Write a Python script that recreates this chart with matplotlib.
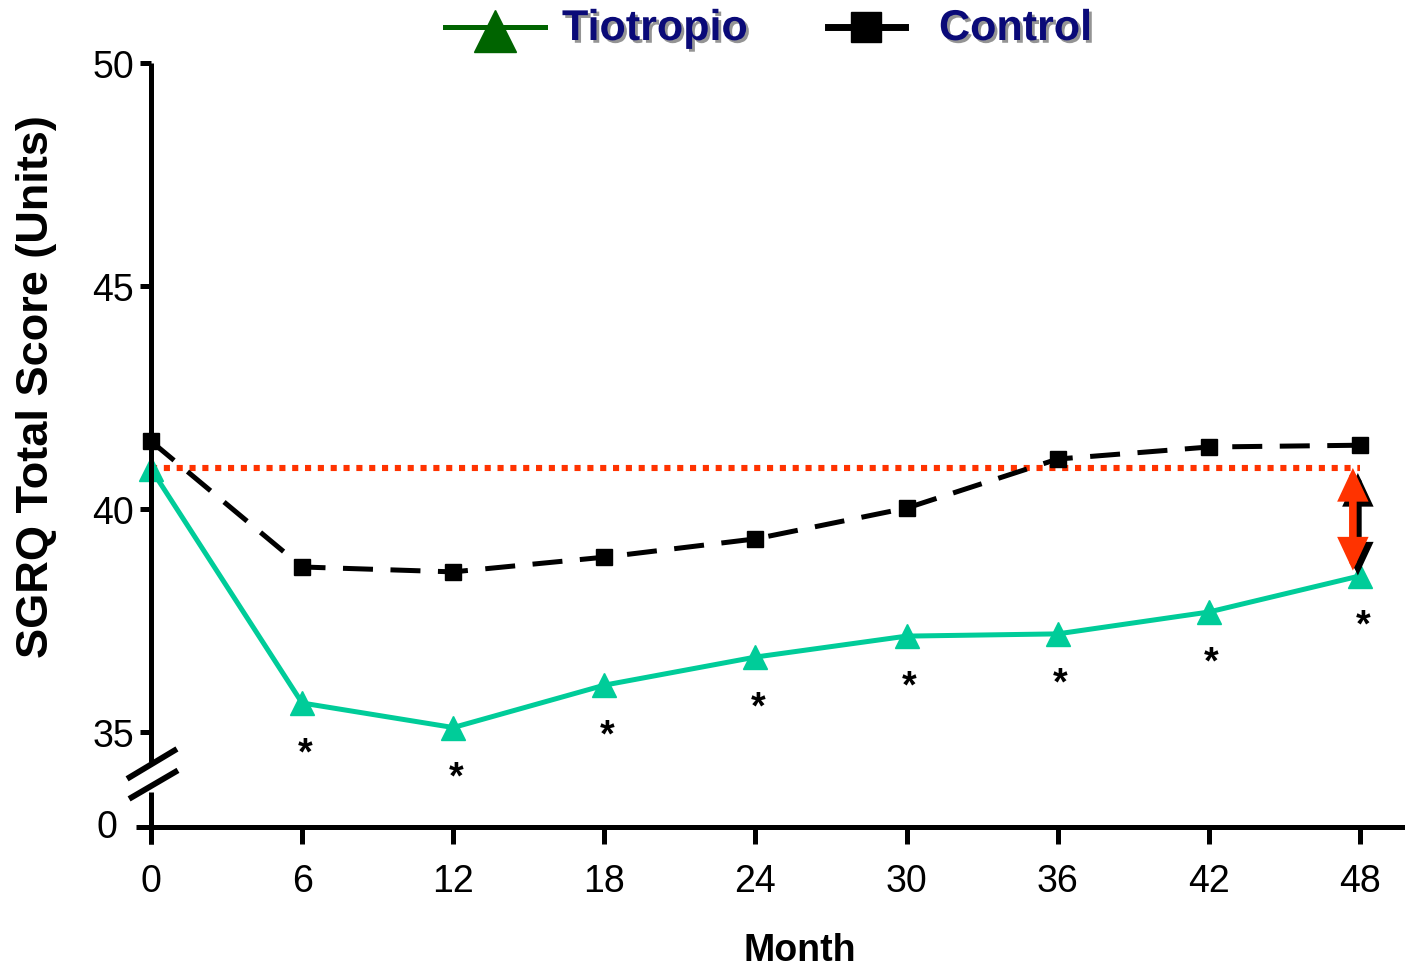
import matplotlib
matplotlib.use("Agg")
import matplotlib.pyplot as plt
import matplotlib.patheffects as pe
import matplotlib.transforms as mtransforms
from matplotlib.lines import Line2D
from matplotlib.patches import FancyArrowPatch

plt.rcParams['font.family'] = ['Liberation Sans', 'DejaVu Sans']

months = [0, 6, 12, 18, 24, 30, 36, 42, 48]
tiotropio = [40.9, 35.65, 35.1, 36.05, 36.68, 37.15, 37.2, 37.69, 38.5]
control = [41.52, 38.7, 38.59, 38.92, 39.33, 40.02, 41.12, 41.39, 41.43]
significant = [False, True, True, True, True, True, True, True, True]
baseline = 40.92
yticks = [35, 40, 45, 50]
xticks = months

TEAL = '#00CC99'
RED = '#FF3300'
NAVY = '#0A0A78'

fig = plt.figure(figsize=(14.05, 9.7), dpi=100)
ax = fig.add_axes([151 / 1405, 142 / 970, 1 - 151 / 1405, (906 - 142) / 970])

ymin = 32.87
ax.set_xlim(0, 49.79)
ax.set_ylim(ymin, 50)

# control arm
ax.plot(months, control, color='black', lw=3.6, ls=(0, (6, 3.5)),
        marker='s', ms=11, mfc='black', mec='black', clip_on=False, zorder=4)
# tiotropium arm
ax.plot(months, tiotropio, color=TEAL, lw=3.6, marker='^', ms=17,
        mfc=TEAL, mec=TEAL, clip_on=False, zorder=5)
# baseline reference
ax.plot([0, 48], [baseline, baseline], color=RED, lw=4.4, ls=(0, (1, 1.1)),
        zorder=3, solid_capstyle='butt', dash_capstyle='butt')

# significance markers
for m, v, s in zip(months, tiotropio, significant):
    if s:
        ax.annotate('*', (m, v), xytext=(2, -36), textcoords='offset points',
                    ha='center', va='center', fontsize=27, fontweight='bold')

# difference arrow at 48 months, with a black drop shadow
arrow_kw = dict(arrowstyle='<|-|>,head_length=1.5,head_width=0.7',
                mutation_scale=10, lw=5.5, shrinkA=0, shrinkB=0, joinstyle='miter')
shadow_tr = mtransforms.offset_copy(ax.transData, fig=fig, x=5, y=-5, units='dots')
ax.add_patch(FancyArrowPatch((47.72, baseline), (47.72, 38.62), color='black',
                             transform=shadow_tr, zorder=6, **arrow_kw))
ax.add_patch(FancyArrowPatch((47.72, baseline), (47.72, 38.62), color=RED,
                             zorder=6.5, **arrow_kw))

# axes styling
for side in ['top', 'right', 'left']:
    ax.spines[side].set_visible(False)
ax.spines['bottom'].set_linewidth(3.6)
ax.spines['bottom'].set_capstyle('butt')

ax.set_xticks(xticks)
ax.set_xticklabels([str(m) for m in xticks])
ax.set_yticks(yticks)
ax.set_yticklabels([str(t) for t in yticks])
ax.tick_params(axis='x', direction='out', length=12, width=3.6, labelsize=27, pad=14)
ax.tick_params(axis='y', direction='out', length=8, width=3.6, labelsize=27, pad=4)

# zero of the broken axis
ax.plot([-0.6, 0], [ymin, ymin], color='black', lw=3.6, clip_on=False, zorder=7,
        solid_capstyle='butt')
ax.annotate('0', (0, ymin), xytext=(-24, 0), textcoords='offset points',
            ha='right', va='center', fontsize=27, annotation_clip=False)

# broken left axis
y_up = 34.33
y_lo = 33.65
ax.plot([0, 0], [y_up, 50], color='black', lw=3.6, clip_on=False, zorder=7,
        solid_capstyle='butt')
ax.plot([0, 0], [ymin - 0.38, y_lo], color='black', lw=3.6, clip_on=False, zorder=7,
        solid_capstyle='butt')
ax.plot([-0.95, 1.03], [33.95, 34.62], color='black', lw=4.2, clip_on=False, zorder=7,
        solid_capstyle='butt')
ax.plot([-0.87, 1.07], [33.5, 34.14], color='black', lw=4.2, clip_on=False, zorder=7,
        solid_capstyle='butt')

ax.set_ylabel('SGRQ Total Score (Units)', fontsize=32.5, fontweight='bold')
ax.yaxis.set_label_coords(-0.075, (970 - 387 - 142) / (906 - 142))
ax.set_xlabel('Month', fontsize=27, fontweight='bold')
ax.xaxis.set_label_coords((800 - 151) / 1254, -(933 - 828) / (906 - 142))

# legend drawn in figure coordinates
def fx(px):
    return px / 1405

def fy(py):
    return 1 - py / 970

fig.add_artist(Line2D([fx(445), fx(545)], [fy(28), fy(28)], color='#006400', lw=3.6))
fig.add_artist(Line2D([fx(495)], [fy(32)], marker='^', ms=30, color='#006400', lw=0))
fig.add_artist(Line2D([fx(828), fx(905)], [fy(28), fy(28)], color='black', lw=5))
fig.add_artist(Line2D([fx(866)], [fy(28)], marker='s', ms=22, color='black', lw=0))
shadow = [pe.SimplePatchShadow(offset=(2, -2), shadow_rgbFace='#888888', alpha=0.9), pe.Normal()]
fig.text(fx(562), fy(30), 'Tiotropio', fontsize=31, fontweight='bold', color=NAVY,
         ha='left', va='center', path_effects=shadow)
fig.text(fx(939), fy(30), 'Control', fontsize=31, fontweight='bold', color=NAVY,
         ha='left', va='center', path_effects=shadow)

fig.savefig('out.png', dpi=100)
